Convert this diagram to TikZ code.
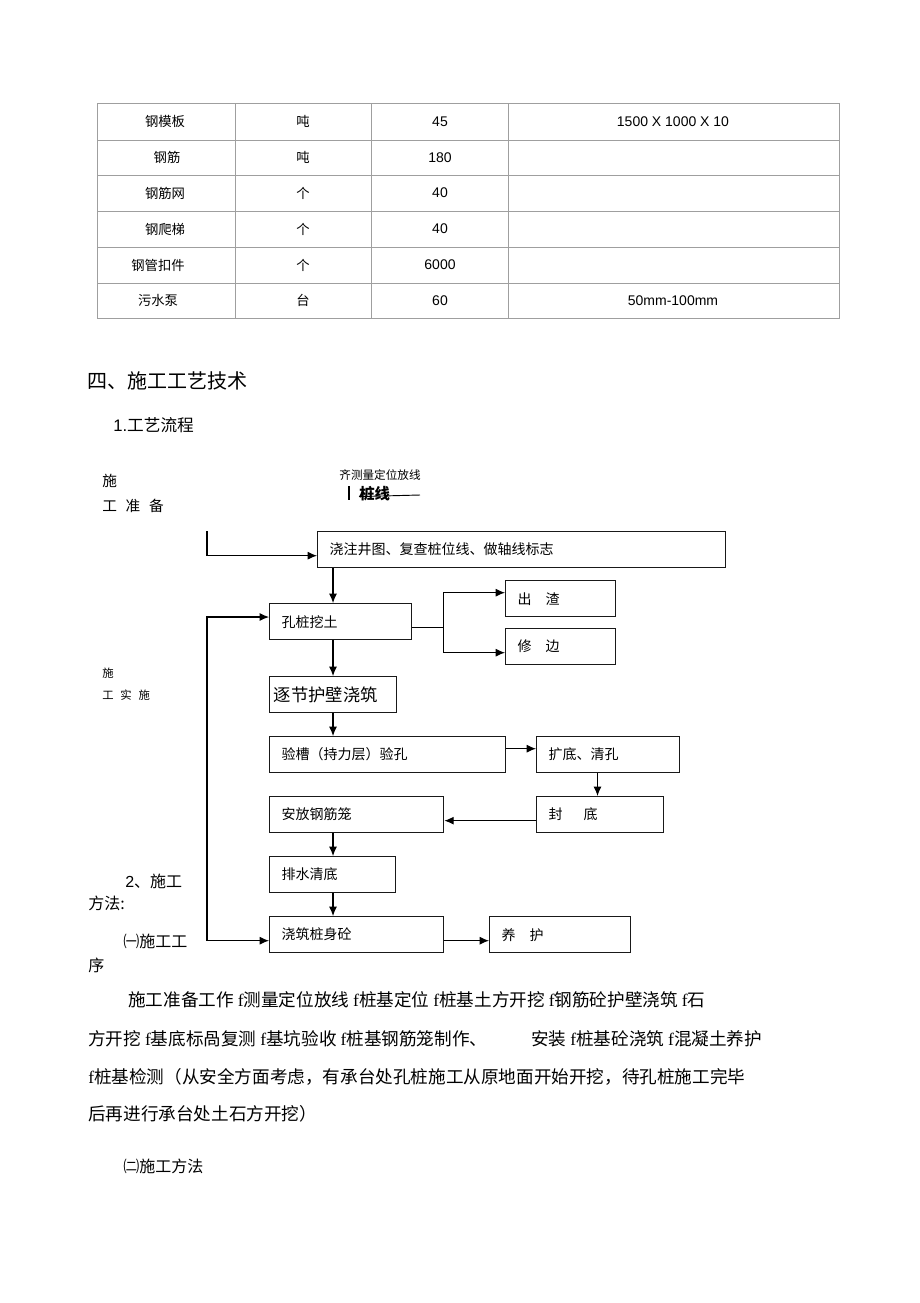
\documentclass[tikz,border=0pt]{standalone}
\usepackage{fontspec}
\usetikzlibrary{arrows.meta}
\setmainfont{Liberation Serif}
\newfontfamily\song{Noto Sans CJK SC}
\newfontfamily\hei{Noto Sans CJK SC}
\newfontfamily\arial{Liberation Sans}
\newcommand\arrowf{{\rmfamily f}}

\tikzset{
  tabline/.style = {gray!75, line width=0.6pt},
  cell/.style = {font=\hei\fontsize{10}{12}\selectfont},
  numcell/.style = {font=\arial\fontsize{10.5}{12}\selectfont},
  flow/.style = {draw=black!90, line width=1pt, anchor=north west,
    minimum height=27pt, inner xsep=9pt, inner ysep=0pt,
    text width=#1-18pt, align=left, font=\song\fontsize{10.5}{12}\selectfont},
  arr/.style = {line width=0.8pt, -{Latex[length=7pt,width=6pt]}},
  body/.style = {anchor=west, inner sep=0pt, font=\song\fontsize{13.2}{15}\selectfont},
  side/.style = {anchor=west, inner sep=0pt, font=\song\fontsize{11}{13}\selectfont}
}

\begin{document}
\begin{tikzpicture}[x=0.75pt, y=-0.75pt]
\fill[white] (0,0) rectangle (920,1303);
\useasboundingbox (0,0) rectangle (920,1303);

% table of materials
\draw[tabline] (97,103) rectangle (839,318);
\draw[tabline] (97,140) -- (839,140);
\draw[tabline] (97,175) -- (839,175);
\draw[tabline] (97,211) -- (839,211);
\draw[tabline] (97,247) -- (839,247);
\draw[tabline] (97,283) -- (839,283);
\draw[tabline] (235,103) -- (235,318);
\draw[tabline] (371,103) -- (371,318);
\draw[tabline] (508,103) -- (508,318);
\node[cell] (name1) at (165,121.5) {钢模板};
\node[cell] (unit1) at (303,121.5) {吨};
\node[numcell] (num1) at (440,121.5) {45};
\node[numcell] (spec1) at (673,121.5) {1500 X 1000 X 10};
\node[cell] (name2) at (167,157.5) {钢筋};
\node[cell] (unit2) at (303,157.5) {吨};
\node[numcell] (num2) at (440,157.5) {180};
\node[cell] (name3) at (165,193) {钢筋网};
\node[cell] (unit3) at (303,193) {个};
\node[numcell] (num3) at (440,193) {40};
\node[cell] (name4) at (165,229) {钢爬梯};
\node[cell] (unit4) at (303,229) {个};
\node[numcell] (num4) at (440,229) {40};
\node[cell] (name5) at (158,265) {钢管扣件};
\node[cell] (unit5) at (303,265) {个};
\node[numcell] (num5) at (440,265) {6000};
\node[cell] (name6) at (158,300.5) {污水泵};
\node[cell] (unit6) at (303,300.5) {台};
\node[numcell] (num6) at (440,300.5) {60};
\node[numcell] (spec6) at (673,300.5) {50mm-100mm};

% headings
\node[anchor=west, inner sep=0pt, font=\hei\fontsize{15}{17}\selectfont] (title) at (87,381) {四、施工工艺技术};
\node[anchor=west, inner sep=0pt, font=\song\fontsize{12.5}{14}\selectfont] (sub) at (113,425) {{\arial 1.}工艺流程};

% left side labels
\node[side] (prepa) at (102,481) {施};
\node[side] (prepb) at (102,506) {工\hspace{0.6em}准\hspace{0.6em}备};
\node[anchor=west, inner sep=0pt, font=\hei\fontsize{8.5}{10}\selectfont] (doa) at (102,673) {施};
\node[anchor=west, inner sep=0pt, font=\hei\fontsize{8.5}{10}\selectfont] (dob) at (102,695) {工\hspace{0.6em}实\hspace{0.6em}施};
\node[side, font=\song\fontsize{12}{14}\selectfont] (methoda) at (125,881) {{\arial 2}、施工};
\node[side, font=\song\fontsize{12}{14}\selectfont] (methodb) at (88,903) {方法:};
\node[side, font=\song\fontsize{12}{14}\selectfont] (ordera) at (123,941) {{\hei ㈠}施工工};
\node[side, font=\song\fontsize{12}{14}\selectfont] (orderb) at (88,965) {序};

% survey note
\node[inner sep=0pt, font=\hei\fontsize{8.7}{10}\selectfont] (survey) at (380,475) {齐测量定位放线};
\node[anchor=west, inner sep=0pt, font=\hei\bfseries\fontsize{11.5}{13}\selectfont] (pile) at (359,494) {桩线};
\draw[line width=1pt] (349,486) -- (349,500);
\draw[line width=0.7pt] (pile.south west) ++(0,-5) -- (420,495);

% flow boxes
\node[flow=306pt] (jingquan) at (317,531) {浇注井图、复查桩位线、做轴线标志};
\node[flow=106.5pt] (wa) at (269,603) {孔桩挖土};
\node[flow=82.5pt] (chuzha) at (505,580) {出\hspace{1em}渣};
\node[flow=82.5pt] (xiubian) at (505,628) {修\hspace{1em}边};
\node[flow=95.25pt, font=\song\fontsize{13}{15}\selectfont, inner xsep=3pt, text width=89pt] (hubi) at (269,676) {逐节护壁浇筑};
\node[flow=177pt] (yancao) at (269,736) {验槽（持力层）验孔};
\node[flow=107.25pt] (kuodi) at (536,736) {扩底、清孔};
\node[flow=95.25pt] (fengdi) at (536,796) {封\hspace{1.5em}底};
\node[flow=130.5pt] (gangjin) at (269,796) {安放钢筋笼};
\node[flow=94.5pt] (paishui) at (269,856) {排水清底};
\node[flow=130.5pt] (jiaozhu) at (269,916) {浇筑桩身砼};
\node[flow=105.75pt] (yanghu) at (489,916) {养\hspace{1em}护};

% connectors
\coordinate (spine) at (333,0);
\coordinate (back) at (207,0);
\coordinate (prep) at (207,531);
\draw[arr] (prep) |- ([yshift=-4.5pt]jingquan.west);
\draw[arr] (spine |- jingquan.south) -- (spine |- wa.north);
\draw[line width=0.8pt] ([yshift=-4.5pt]wa.east) -- ++(31,0) coordinate (fork);
\draw[arr] (fork) |- ([yshift=4.5pt]chuzha.west);
\draw[arr] (fork) |- ([yshift=-4.5pt]xiubian.west);
\draw[arr] (spine |- wa.south) -- (spine |- hubi.north);
\draw[arr] (spine |- hubi.south) -- (spine |- yancao.north);
\draw[arr] ([yshift=4.5pt]yancao.east) -- ([yshift=4.5pt]kuodi.west);
\draw[arr] ([xshift=-8pt]kuodi.south) -- ([xshift=-8pt]kuodi.south |- fengdi.north);
\draw[arr] ([yshift=-4.5pt]fengdi.west) -- ([yshift=-4.5pt]gangjin.east);
\draw[arr] (spine |- gangjin.south) -- (spine |- paishui.north);
\draw[arr] (spine |- paishui.south) -- (spine |- jiaozhu.north);
\draw[arr] ([yshift=-4.5pt]jiaozhu.east) -- ([yshift=-4.5pt]yanghu.west);
\draw[arr] ([yshift=-4.5pt]jiaozhu.west -| back) -- ([yshift=-4.5pt]jiaozhu.west);
\draw[arr] ([yshift=-4.5pt]jiaozhu.west -| back) |- ([yshift=3.5pt]wa.west);

% paragraph
\node[body] (line1) at (128,1000) {施工准备工作 \arrowf{}测量定位放线 \arrowf{}桩基定位 \arrowf{}桩基土方开挖 \arrowf{}钢筋砼护壁浇筑 \arrowf{}石};
\node[body] (line2) at (88,1039) {方开挖 \arrowf{}基底标咼复测 \arrowf{}基坑验收 \arrowf{}桩基钢筋笼制作、\hspace{2.5em}安装 \arrowf{}桩基砼浇筑 \arrowf{}混凝土养护};
\node[body] (line3) at (88,1077) {\arrowf{}桩基检测（从安全方面考虑，有承台处孔桩施工从原地面开始开挖，待孔桩施工完毕};
\node[body] (line4) at (88,1114) {后再进行承台处土石方开挖）};
\node[body, font=\song\fontsize{12}{14}\selectfont] (method2) at (123,1166) {{\hei ㈡}施工方法};
\end{tikzpicture}
\end{document}
